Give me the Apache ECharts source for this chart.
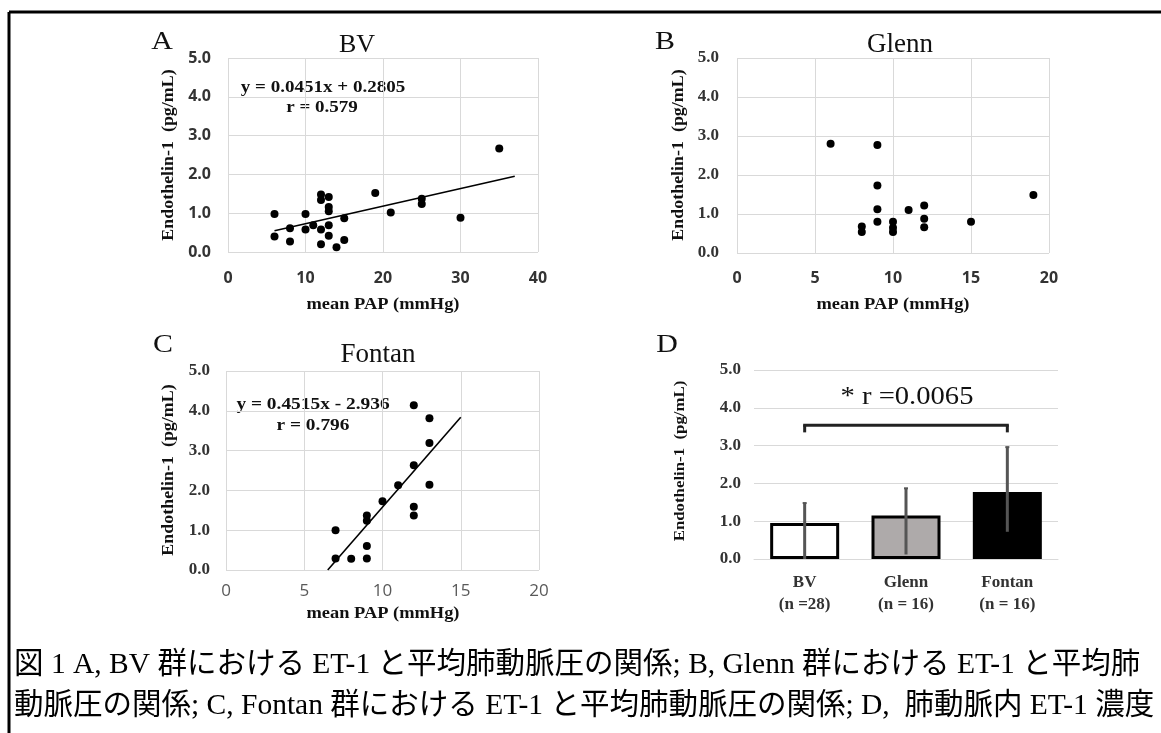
<!DOCTYPE html>
<html>
<head>
<meta charset="utf-8">
<script src="https://cdn.jsdelivr.net/npm/echarts@6/dist/echarts.min.js"></script>
<style>
html,body{margin:0;padding:0;background:#fff;}
#c{width:1161px;height:733px;}
</style>
</head>
<body>
<div id="c"></div>
<script>
// ---- Data ----
const bvPAP = [6, 6, 8, 8, 10, 10, 11, 12, 12, 12, 12, 13, 13, 13, 13, 13, 14, 15, 15, 19, 21, 25, 25, 30, 35];
const bvET1 = [0.98, 0.40, 0.61, 0.27, 0.98, 0.58, 0.69, 1.48, 1.34, 0.58, 0.20, 1.42, 1.16, 1.05, 0.69, 0.42, 0.12, 0.87, 0.31, 1.52, 1.02, 1.37, 1.24, 0.88, 2.67];
const bvTrend = [[6, 0.55], [37, 1.95]];

const glennPAP = [6, 9, 9, 9, 9, 8, 8, 10, 10, 10, 11, 12, 12, 12, 15, 19];
const glennET1 = [2.80, 2.77, 1.73, 1.12, 0.80, 0.68, 0.54, 0.80, 0.65, 0.54, 1.10, 1.22, 0.88, 0.66, 0.80, 1.49];

const fontanPAP = [7, 7, 8, 9, 9, 9, 9, 10, 11, 12, 12, 12, 12, 13, 13, 13];
const fontanET1 = [1.00, 0.29, 0.28, 1.37, 1.24, 0.60, 0.29, 1.73, 2.13, 4.14, 2.63, 1.59, 1.37, 3.81, 3.19, 2.14];
const fontanTrend = [[6.5, 0.0], [15, 3.84]];

const groupLabels = ['BV\n(n =28)', 'Glenn\n(n = 16)', 'Fontan\n(n = 16)'];
const groupMean = [0.95, 1.15, 1.77];
const groupErrLow = [0.0, 0.12, 0.72];
const groupErrHigh = [1.48, 1.87, 2.96];
const bracket = [[0, 2, 3.54, 3.35]];

const yTicks = ['0.0', '1.0', '2.0', '3.0', '4.0', '5.0'];

// ---- Helpers ----
const pairs = (xs, ys) => xs.map((x, i) => [x, ys[i]]);
const SERIF = '"Liberation Serif", "Times New Roman", serif';
const SANS = '"Open Sans", "Noto Sans", sans-serif';
const GRIDC = '#d9d9d9';

function valueX(idx, max, interval, labelStyle, margin) {
  return {
    type: 'value', gridIndex: idx, min: 0, max: max, interval: interval,
    axisLine: {show: false}, axisTick: {show: false},
    splitLine: {show: true, lineStyle: {color: GRIDC, width: 1}},
    axisLabel: Object.assign({margin: margin}, labelStyle)
  };
}
function valueY(idx, labelStyle, margin) {
  return {
    type: 'value', gridIndex: idx, min: 0, max: 5, interval: 1,
    axisLine: {show: false}, axisTick: {show: false},
    splitLine: {show: true, lineStyle: {color: GRIDC, width: 1}},
    axisLabel: Object.assign({margin: margin, formatter: v => yTicks[Math.round(v)]}, labelStyle)
  };
}
const boldSans = {fontFamily: SANS, fontWeight: 'bold', fontSize: 16, color: '#333'};
const boldSerif = {fontFamily: SERIF, fontWeight: 'bold', fontSize: 17, color: '#333'};
const lightSans = {fontFamily: SANS, fontWeight: 'normal', fontSize: 17, color: '#595959'};

function txt(x, y, text, font, opts) {
  return Object.assign({
    type: 'text', x: x, y: y,
    style: {text: text, font: font, fill: '#111', align: 'center', verticalAlign: 'middle'}
  }, opts || {});
}

const chart = echarts.init(document.getElementById('c'), null, {renderer: 'canvas'});

const scatterStyle = {symbol: 'circle', symbolSize: 8, itemStyle: {color: '#000', opacity: 1}, z: 5};
const trendStyle = {type: 'line', symbol: 'none', lineStyle: {color: '#000', width: 1.6}, z: 4, silent: true};

const option = {
  animation: false,
  backgroundColor: '#fff',
  grid: [
    {left: 228, top: 58, width: 310, height: 194},
    {left: 737, top: 58, width: 312, height: 195},
    {left: 226, top: 371, width: 313, height: 199},
    {left: 754, top: 370, width: 304, height: 189}
  ],
  xAxis: [
    valueX(0, 40, 10, boldSans, 18),
    valueX(1, 20, 5, boldSans, 17),
    valueX(2, 20, 5, lightSans, 13),
    {
      type: 'category', gridIndex: 3, data: groupLabels,
      axisLine: {show: true, lineStyle: {color: GRIDC}}, axisTick: {show: false},
      axisLabel: {fontFamily: SERIF, fontWeight: 'bold', fontSize: 17, color: '#333', lineHeight: 22, margin: 13}
    }
  ],
  yAxis: [
    valueY(0, boldSans, 17),
    valueY(1, boldSerif, 18),
    valueY(2, boldSerif, 16),
    valueY(3, boldSerif, 13)
  ],
  series: [
    Object.assign({type: 'scatter', xAxisIndex: 0, yAxisIndex: 0, data: pairs(bvPAP, bvET1)}, scatterStyle),
    Object.assign({xAxisIndex: 0, yAxisIndex: 0, data: bvTrend}, trendStyle),
    Object.assign({type: 'scatter', xAxisIndex: 1, yAxisIndex: 1, data: pairs(glennPAP, glennET1)}, scatterStyle),
    Object.assign({type: 'scatter', xAxisIndex: 2, yAxisIndex: 2, data: pairs(fontanPAP, fontanET1)}, scatterStyle),
    Object.assign({xAxisIndex: 2, yAxisIndex: 2, data: fontanTrend}, trendStyle),
    {
      type: 'bar', xAxisIndex: 3, yAxisIndex: 3, barWidth: 69,
      data: groupMean.map((v, i) => ({
        value: v,
        itemStyle: {color: ['#ffffff', '#aeaaaa', '#000000'][i], borderColor: '#000', borderWidth: 3}
      })),
      z: 2
    },
    {
      type: 'custom', xAxisIndex: 3, yAxisIndex: 3, z: 6,
      data: groupLabels.map((c, i) => [i, groupErrLow[i], groupErrHigh[i]]),
      renderItem: function (params, api) {
        const lo = api.coord([api.value(0), api.value(1)]);
        const hi = api.coord([api.value(0), api.value(2)]);
        return {
          type: 'group', children: [
            {type: 'line', shape: {x1: lo[0], y1: lo[1], x2: hi[0], y2: hi[1]}, style: {stroke: '#555', lineWidth: 3}},
            {type: 'line', shape: {x1: hi[0] - 2, y1: hi[1], x2: hi[0] + 2, y2: hi[1]}, style: {stroke: '#555', lineWidth: 2}}
          ]
        };
      }
    },
    {
      type: 'custom', xAxisIndex: 3, yAxisIndex: 3, z: 6,
      data: bracket,
      renderItem: function (params, api) {
        const a = api.coord([api.value(0), api.value(2)]);
        const b = api.coord([api.value(1), api.value(2)]);
        const aBot = api.coord([api.value(0), api.value(3)]);
        return {
          type: 'group', children: [
            {type: 'line', shape: {x1: a[0] - 1.5, y1: a[1], x2: b[0] + 1.5, y2: b[1]}, style: {stroke: '#222', lineWidth: 3}},
            {type: 'line', shape: {x1: a[0], y1: a[1], x2: a[0], y2: aBot[1]}, style: {stroke: '#222', lineWidth: 3}},
            {type: 'line', shape: {x1: b[0], y1: b[1], x2: b[0], y2: aBot[1]}, style: {stroke: '#222', lineWidth: 3}}
          ]
        };
      }
    }
  ],
  graphic: [
    // frame
    {type: 'line', shape: {x1: 9, y1: 12, x2: 1161, y2: 12}, style: {stroke: '#000', lineWidth: 3}},
    {type: 'line', shape: {x1: 9, y1: 12, x2: 9, y2: 733}, style: {stroke: '#000', lineWidth: 3}},
    // panel letters and titles
    txt(162, 42, 'A', 'normal 26px ' + SERIF, {scaleX: 1.15}),
    txt(357, 45, 'BV', 'normal 26px ' + SERIF),
    txt(665, 42, 'B', 'normal 26px ' + SERIF, {scaleX: 1.15}),
    txt(900, 45, 'Glenn', 'normal 27px ' + SERIF),
    txt(163, 345, 'C', 'normal 26px ' + SERIF, {scaleX: 1.15}),
    txt(378, 355, 'Fontan', 'normal 27px ' + SERIF),
    txt(667, 345, 'D', 'normal 26px ' + SERIF, {scaleX: 1.15}),
    // axis names
    txt(383, 305, 'mean PAP (mmHg)', 'bold 16px ' + SERIF, {scaleX: 1.15}),
    txt(893, 305, 'mean PAP (mmHg)', 'bold 16px ' + SERIF, {scaleX: 1.15}),
    txt(383, 614, 'mean PAP (mmHg)', 'bold 16px ' + SERIF, {scaleX: 1.15}),
    txt(169, 155, 'Endothelin-1  (pg/mL)', 'bold 16px ' + SERIF, {rotation: Math.PI / 2, scaleX: 1.12}),
    txt(679, 155, 'Endothelin-1  (pg/mL)', 'bold 16px ' + SERIF, {rotation: Math.PI / 2, scaleX: 1.12}),
    txt(169, 470, 'Endothelin-1  (pg/mL)', 'bold 16px ' + SERIF, {rotation: Math.PI / 2, scaleX: 1.12}),
    txt(680, 461, 'Endothelin-1  (pg/mL)', 'bold 15px ' + SERIF, {rotation: Math.PI / 2, scaleX: 1.12}),
    // equations
    txt(323, 88, 'y = 0.0451x + 0.2805', 'bold 17px ' + SERIF, {scaleX: 1.12}),
    txt(322, 108, 'r = 0.579', 'bold 17px ' + SERIF, {scaleX: 1.12}),
    txt(313, 405, 'y = 0.4515x - 2.936', 'bold 17px ' + SERIF, {scaleX: 1.14}),
    txt(313, 426, 'r = 0.796', 'bold 17px ' + SERIF, {scaleX: 1.14}),
    txt(907, 397, '* r =0.0065', 'normal 26px ' + SERIF, {scaleX: 1.1}),
    // caption
    {type: 'text', x: 14, y: 665, style: {text: '図 1 A, BV 群における ET-1 と平均肺動脈圧の関係; B, Glenn 群における ET-1 と平均肺', font: 'normal 29.5px "Liberation Serif", "Noto Sans CJK JP", serif', fill: '#000', align: 'left', verticalAlign: 'middle'}},
    {type: 'text', x: 14, y: 706, style: {text: '動脈圧の関係; C, Fontan 群における ET-1 と平均肺動脈圧の関係; D,  肺動脈内 ET-1 濃度', font: 'normal 29.5px "Liberation Serif", "Noto Sans CJK JP", serif', fill: '#000', align: 'left', verticalAlign: 'middle'}}
  ]
};
chart.setOption(option);
</script>
</body>
</html>
